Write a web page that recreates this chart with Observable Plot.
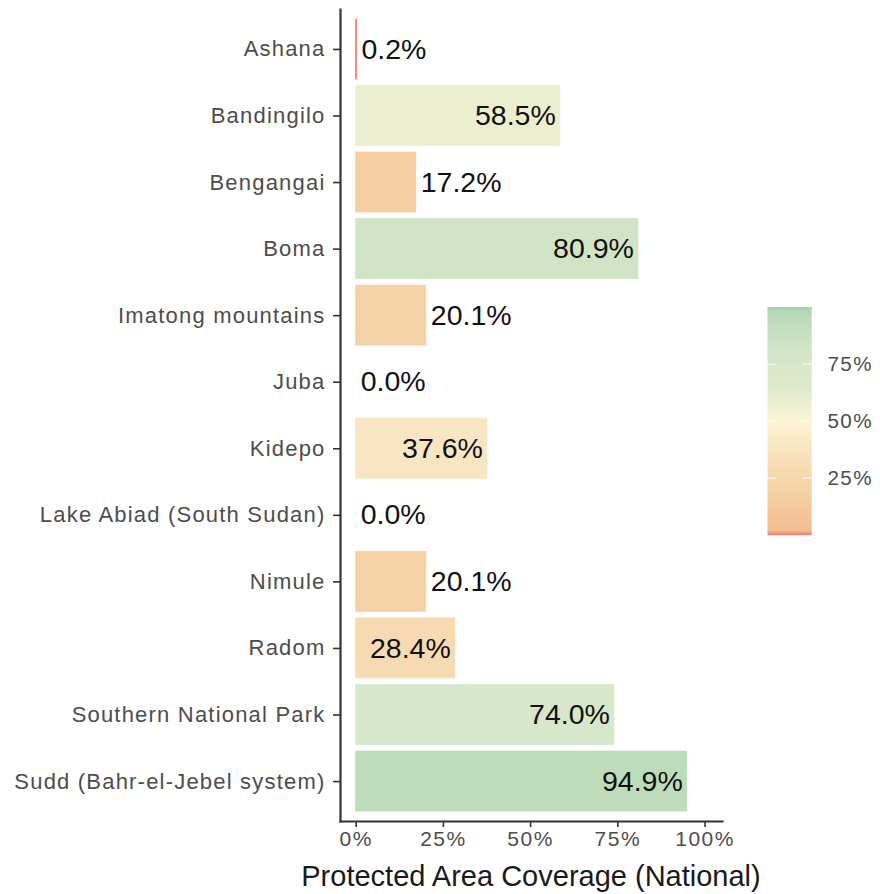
<!DOCTYPE html>
<html><head><meta charset="utf-8">
<script src="https://cdn.jsdelivr.net/npm/d3@7"></script>
<script src="https://cdn.jsdelivr.net/npm/@observablehq/plot@0.6"></script>
<style>
body{margin:0;background:#fff;font-family:"Liberation Sans",Arial,sans-serif;}
#wrap{position:relative;width:880px;height:894px;overflow:hidden;}
#legend{position:absolute;left:767px;top:290px;}
#xtitle{position:absolute;left:300px;width:462px;top:862px;text-align:center;font-size:29px;line-height:29px;color:#1a1a1a;white-space:nowrap;}
</style></head><body>
<div id="wrap"><div id="chart"></div><div id="legend"></div><div id="xtitle">Protected Area Coverage (National)</div></div>
<script>
const areas = ["Ashana","Bandingilo","Bengangai","Boma","Imatong mountains","Juba","Kidepo","Lake Abiad (South Sudan)","Nimule","Radom","Southern National Park","Sudd (Bahr-el-Jebel system)"];
const coverage = [0.2,58.5,17.2,80.9,20.1,0.0,37.6,0.0,20.1,28.4,74.0,94.9];
const xTicks = [0,25,50,75,100];
const legendTicks = [25,50,75];
const colorStops = [0,0.3,2,17,30,50,65,80,95,99,100];
const colorRange = ["#f8766d","#f47f76","#f4bd92","#f5cfa1","#f7dcb4","#fcf4d6","#dfeacb","#d2e5c7","#bcdcba","#b2d8b5","#8cc8a0"];

const data = areas.map((area,i)=>({area, value: coverage[i]}));
const fmt = v => v.toFixed(1) + "%";
const pct = d => d + "%";
const color = {type:"linear", domain: colorStops, range: colorRange, interpolate:"rgb"};
const font = '"Liberation Sans", Arial, sans-serif';

const chart = Plot.plot({
  width: 880, height: 894,
  marginTop: 9, marginBottom: 73, marginLeft: 340, marginRight: 158,
  style: {fontFamily: font, background: "white", overflow: "visible"},
  x: {domain: [-4.5, 105], axis: null},
  y: {domain: areas, paddingInner: 0.1, paddingOuter: 0.15, round: false, axis: null},
  color,
  marks: [
    Plot.barX(data, {x: "value", y: "area", fill: "value", stroke: d => d.value > 0 ? d.value : null, strokeWidth: 0.9}),
    Plot.text(data.filter(d => d.value > 25), {x: "value", y: "area", text: d => fmt(d.value), textAnchor: "end", dx: -4.5, fontSize: 28.5, fill: "#111"}),
    Plot.text(data.filter(d => d.value <= 25), {x: "value", y: "area", text: d => fmt(d.value), textAnchor: "start", dx: 4.5, fontSize: 28.5, fill: "#111"}),
    Plot.axisY({tickSize: 7, tickPadding: 8, fontSize: 22, stroke: "#333", strokeWidth: 1.6, fill: "#4d4d4d", label: null}),
    Plot.axisX(xTicks, {tickSize: 6, tickPadding: 4, fontSize: 21, stroke: "#333", strokeWidth: 1.6, fill: "#4d4d4d", tickFormat: pct, label: null}),
    Plot.frame({anchor: "left", stroke: "#333", strokeWidth: 2.2}),
    Plot.frame({anchor: "bottom", stroke: "#333", strokeWidth: 2.2})
  ]
});
chart.querySelectorAll('g[aria-label="y-axis tick label"] text').forEach(t => t.style.letterSpacing = "1.2px");
chart.querySelectorAll('g[aria-label="x-axis tick label"] text').forEach(t => t.style.letterSpacing = "1.5px");
document.getElementById("chart").append(chart);

const legend = Plot.plot({
  width: 115, height: 260,
  marginTop: 17, marginBottom: 11, marginLeft: 0, marginRight: 70,
  style: {fontFamily: font, background: "transparent", overflow: "visible"},
  x: {domain: [0, 1], axis: null},
  y: {domain: [0, 100], axis: null},
  color,
  marks: [
    Plot.raster({x1: 0, x2: 1, y1: 0, y2: 100, width: 1, height: 400, fill: (x, y) => y}),
    Plot.ruleY(legendTicks, {x1: 0, x2: 0.2, stroke: "white", strokeWidth: 1}),
    Plot.ruleY(legendTicks, {x1: 0.8, x2: 1, stroke: "white", strokeWidth: 1}),
    Plot.axisY(legendTicks, {anchor: "right", tickSize: 0, tickPadding: 16, fontSize: 21, fill: "#4d4d4d", tickFormat: pct, label: null})
  ]
});
legend.querySelectorAll("text").forEach(t => t.style.letterSpacing = "1.5px");
document.getElementById("legend").append(legend);
</script>
</body></html>
